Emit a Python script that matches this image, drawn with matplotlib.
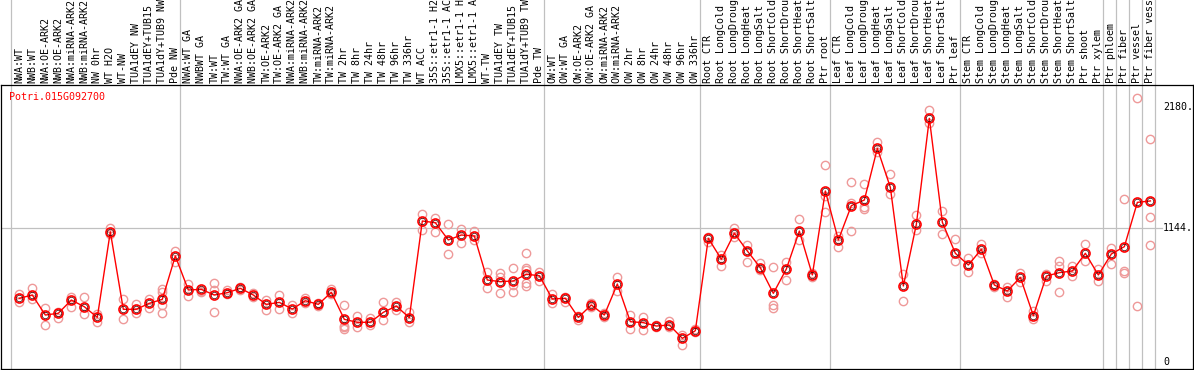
import matplotlib
matplotlib.use('Agg')
import matplotlib.pyplot as plt

plt.rcParams.update({'font.family': 'DejaVu Sans Mono', 'font.size': 7.2})

RED = '#ff0000'
PINK = '#ee9999'
GRID = '#c0c0c0'

gene = 'Potri.015G092700'

labels = ['NWA:WT', 'NWB:WT', 'NWA:OE-ARK2', 'NWB:OE-ARK2', 'NWA:miRNA-ARK2', 'NWB:miRNA-ARK2',
          'NW 0hr', 'WT H2O', 'WT-NW', 'TUA1dEY NW', 'TUA1dEY+TUB15 NW', 'TUA1dY+TUB9 NW', 'Pde NW',
          'NWA:WT GA', 'NWBWT GA', 'TW:WT', 'TW:WT GA', 'NWA:OE-ARK2 GA', 'NWB:OE-ARK2 GA',
          'TW:OE-ARK2', 'TW:OE-ARK2 GA', 'NWA:miRNA-ARK2 GA', 'NWB:miRNA-ARK2 GA', 'TW:miRNA-ARK2',
          'TW:miRNA-ARK2 GA', 'TW 2hr', 'TW 8hr', 'TW 24hr', 'TW 48hr', 'TW 96hr', 'TW 336hr', 'WT ACC',
          '35S::etr1-1 H2O', '35S::etr1-1 ACC', 'LMX5::etr1-1 H2O', 'LMX5::etr1-1 ACC', 'WT-TW',
          'TUA1dEY TW', 'TUA1dEY+TUB15 TW', 'TUA1dY+TUB9 TW', 'Pde TW',
          'OW:WT', 'OW:WT GA', 'OW:OE-ARK2', 'OW:OE-ARK2 GA', 'OW:miRNA-ARK2', 'OW:miRNA-ARK2 GA',
          'OW 2hr', 'OW 8hr', 'OW 24hr', 'OW 48hr', 'OW 96hr', 'OW 336hr',
          'Root CTR', 'Root LongCold', 'Root LongDrought', 'Root LongHeat', 'Root LongSalt',
          'Root ShortCold', 'Root ShortDrought', 'Root ShortHeat', 'Root ShortSalt', 'Ptr root',
          'Leaf CTR', 'Leaf LongCold', 'Leaf LongDrought', 'Leaf LongHeat', 'Leaf LongSalt',
          'Leaf ShortCold', 'Leaf ShortDrought', 'Leaf ShortHeat', 'Leaf ShortSalt', 'Ptr leaf',
          'Stem CTR', 'Stem LongCold', 'Stem LongDrought', 'Stem LongHeat', 'Stem LongSalt',
          'Stem ShortCold', 'Stem ShortDrought', 'Stem ShortHeat', 'Stem ShortSalt', 'Ptr shoot',
          'Ptr xylem', 'Ptr phloem', 'Ptr fiber', 'Ptr vessel', 'Ptr fiber vessel']

means = [544, 572, 401, 416, 529, 472, 381, 1112, 450, 450, 501, 535, 905,
         615, 620, 572, 592, 629, 572, 492, 509, 452, 523, 492, 595, 364, 339, 339, 424,
         478, 378, 1204, 1189, 1042, 1084, 1076, 700, 686, 692, 749, 737,
         538, 544, 381, 487, 401, 666, 344, 336, 307, 316, 202, 267,
         1056, 877, 1099, 948, 805, 586, 794, 1118, 743, 1460,
         1042, 1335, 1383, 1824, 1491, 649, 1175, 2080, 1193, 928,
         828, 962, 657, 606, 723, 395, 734, 763, 777, 928, 743,
         922, 985, 1363, 1375]

reps = [[580, 512], [631, 538], [461, 316], [429, 378], [557, 472], [552, 410], [410, 344],
        [1147, 1093], [538, 365], [493, 416], [538, 458], [623, 600, 487, 421], [948, 851],
        [663, 566], [600, 610], [672, 615, 429], [615, 580], [638, 615], [586, 557], [529, 444],
        [572, 452], [487, 416], [544, 501], [506, 481], [626, 580], [487, 307, 284, 296],
        [393, 301], [373, 316], [510, 359], [510, 444], [429, 344], [1264, 1127], [1227, 1112],
        [1178, 922], [1135, 1013], [1118, 1042], [766, 629], [762, 728, 587], [800, 657, 595],
        [928, 805, 785, 672, 649], [771, 694],
        [580, 501], [557, 515], [390, 359], [501, 472], [416, 387], [723, 606], [401, 279],
        [382, 273], [313, 296], [353, 296], [230, 145], [279, 254],
        [1070, 1027], [914, 822], [1147, 1070], [999, 856], [848, 785], [814, 487, 464],
        [856, 700], [1218, 1042], [757, 728], [1682, 1417, 1278],
        [1078, 979], [1534, 1355, 1118], [1517, 1321, 1306], [1881, 1795], [1605, 1432],
        [751, 521], [1255, 1127], [2151, 2038], [1292, 1093], [1050, 862],
        [885, 771], [1005, 928], [663, 643], [638, 552], [757, 686], [438, 367], [751, 694],
        [865, 820, 598], [822, 737], [1007, 865], [794, 694],
        [976, 837], [1392, 777, 762], [2251, 478], [1901, 1235, 999]]

group_starts = [0, 13, 41, 53, 63, 73, 84, 85, 86, 87, 88]
ref_line = 1144
ytick_vals = [2180, 1144, 0]
ytick_text = ['2180.', '1144.', '0']

W, H = 1194, 370
fig = plt.figure(figsize=(W / 100, H / 100), dpi=100)
ax = fig.add_axes([1 / W, 1 / H, 1192 / W, 284 / H])

xs = list(range(len(means)))
ax.set_xlim(-1.408, 90.28)
ax.set_ylim(-59.8, 2365)

# separators run up through the label strip
for k in group_starts:
    ax.axvline(k - 0.62, 0, 369 / 284, color=GRID, lw=0.9, clip_on=False, zorder=1)
ax.axhline(ref_line, 0, 0.974, color=GRID, lw=0.9, zorder=1)

for i, r in enumerate(reps):
    ax.plot([i] * len(r), r, ls='none', marker='o', ms=6, mfc='none', mec=PINK, mew=1.0, zorder=2)

ax.plot(xs, means, color=RED, lw=1.0, zorder=3)
ax.plot(xs, means, ls='none', marker='o', ms=6.5, mfc='none', mec=RED, mew=1.2, zorder=4)
ax.plot(xs, means, ls='none', marker='o', ms=4.6, mfc='none', mec='#400000', mew=0.5, zorder=5)

for i, lab in enumerate(labels):
    ax.text(i, 1 + 2 / 284, lab, transform=ax.get_xaxis_transform(), rotation=90,
            ha='center', va='bottom', clip_on=False)

ax.text(8.3 / 1192, (369 - 97) / 284, gene, transform=ax.transAxes, color=RED,
        ha='left', va='center')

for v, t in zip(ytick_vals, ytick_text):
    ax.text(0.9748, v, t, transform=ax.get_yaxis_transform(), ha='left', va='center')

ax.set_xticks([])
ax.set_yticks([])
for s in ax.spines.values():
    s.set_linewidth(0.9)
    s.set_color('black')

fig.savefig('out.png', dpi=100)
